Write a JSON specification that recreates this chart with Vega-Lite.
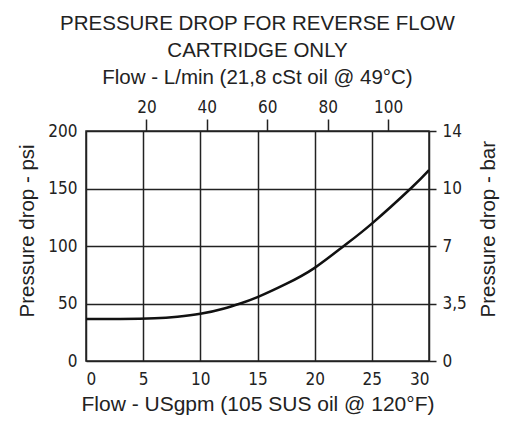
{
  "$schema": "https://vega.github.io/schema/vega-lite/v6.json",
  "width": 343,
  "height": 230,
  "autosize": {"type": "none"},
  "padding": {"left": 86, "top": 131, "right": 80, "bottom": 61},
  "background": "white",
  "title": {
    "text": ["PRESSURE DROP FOR REVERSE FLOW", "CARTRIDGE ONLY", "Flow - L/min (21,8 cSt oil @ 49°C)"],
    "font": "Liberation Sans",
    "fontSize": 20.5,
    "fontWeight": "normal",
    "color": "#222",
    "lineHeight": 27,
    "anchor": "middle",
    "offset": 10
  },
  "config": {
    "view": {"stroke": "#222", "strokeWidth": 1.5},
    "axis": {
      "labelFont": "DejaVu Sans Condensed, Roboto Condensed, Liberation Sans Narrow, Roboto, sans-serif",
      "labelFontSize": 17,
      "labelColor": "#222",
      "titleFont": "Liberation Sans",
      "titleFontSize": 20.5,
      "titleFontWeight": "normal",
      "titleColor": "#222",
      "gridColor": "#222",
      "gridOpacity": 1,
      "gridWidth": 1.5,
      "domain": false,
      "tickColor": "#222",
      "tickWidth": 1.5
    }
  },
  "data": {
    "values": [
      {"gpm": 0, "psi": 36.5},
      {"gpm": 3, "psi": 36.6},
      {"gpm": 6, "psi": 37.2},
      {"gpm": 8, "psi": 38.5},
      {"gpm": 10, "psi": 41},
      {"gpm": 12, "psi": 45.5},
      {"gpm": 13.5, "psi": 50},
      {"gpm": 15, "psi": 55.5},
      {"gpm": 17.5, "psi": 67},
      {"gpm": 20, "psi": 81},
      {"gpm": 22.55, "psi": 100},
      {"gpm": 25, "psi": 119.5},
      {"gpm": 28.4, "psi": 150},
      {"gpm": 30, "psi": 166}
    ]
  },
  "layer": [
    {
      "mark": {"type": "line", "color": "#111", "strokeWidth": 2.5, "interpolate": "natural", "clip": true},
      "encoding": {
        "x": {
          "field": "gpm", "type": "quantitative",
          "scale": {"domain": [0, 30], "nice": false, "zero": false},
          "axis": {
            "orient": "bottom",
            "title": "Flow - USgpm (105 SUS oil @ 120°F)",
            "titleFontSize": 21,
            "values": [0, 5, 10, 15, 20, 25, 30],
            "grid": true,
            "ticks": false,
            "labelPadding": 10,
            "titlePadding": 6
          }
        },
        "y": {
          "field": "psi", "type": "quantitative",
          "scale": {"domain": [0, 200], "nice": false, "zero": false},
          "axis": {
            "orient": "left",
            "title": "Pressure drop - psi",
            "values": [0, 50, 100, 150, 200],
            "grid": true,
            "ticks": false,
            "labelPadding": 9,
            "titleAngle": 270,
            "titleAlign": "left",
            "titleY": 186,
            "titleX": -59,
            "titleBaseline": "middle"
          }
        }
      }
    },
    {
      "mark": {"type": "line", "strokeOpacity": 0, "interpolate": "natural"},
      "encoding": {
        "x": {
          "field": "gpm", "type": "quantitative",
          "axis": {
            "orient": "top",
            "title": null,
            "values": [5.284, 10.568, 15.852, 21.136, 26.42],
            "labelExpr": "round(datum.value * 3.785)",
            "grid": false,
            "ticks": true,
            "tickSize": 12,
            "labelPadding": 3
          }
        },
        "y": {
          "field": "psi", "type": "quantitative",
          "axis": {
            "orient": "right",
            "title": "Pressure drop - bar",
            "values": [0, 50, 100, 150, 200],
            "labelExpr": "datum.value == 200 ? '14' : datum.value == 150 ? '10' : datum.value == 100 ? '7' : datum.value == 50 ? '3,5' : '0'",
            "grid": false,
            "ticks": true,
            "tickSize": 7,
            "labelPadding": 6,
            "titleAngle": 270,
            "titleAlign": "left",
            "titleY": 186,
            "titleX": 59,
            "titleBaseline": "middle"
          }
        }
      }
    }
  ],
  "resolve": {"axis": {"x": "independent", "y": "independent"}}
}
